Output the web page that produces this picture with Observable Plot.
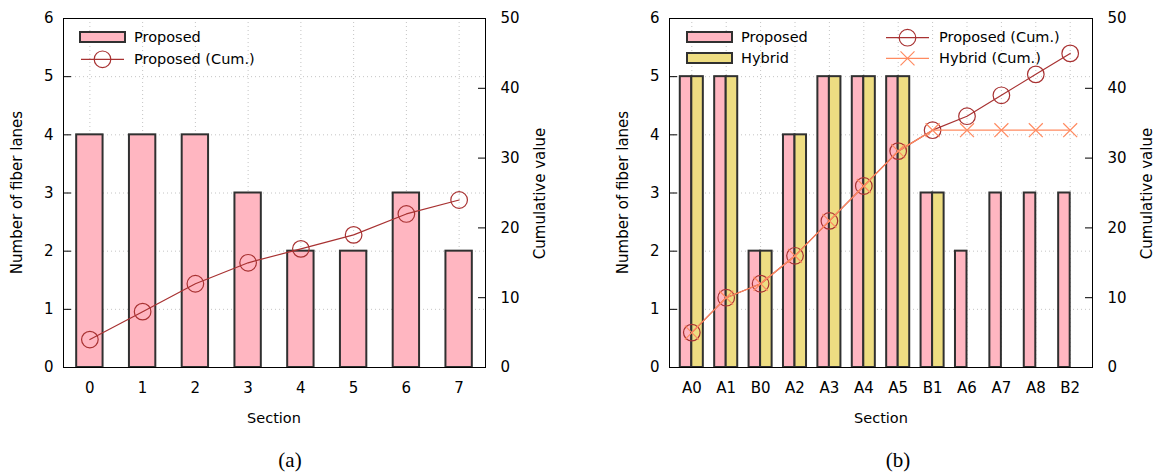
<!DOCTYPE html>
<html>
<head>
<meta charset="utf-8">
<script src="https://cdn.jsdelivr.net/npm/d3@7"></script>
<script src="https://cdn.jsdelivr.net/npm/@observablehq/plot@0.6"></script>
<style>
  html, body { margin: 0; padding: 0; background: #fff; }
  #fig { position: relative; width: 1159px; height: 472px; font-family: "DejaVu Sans", sans-serif; }
  #fig svg.panel { position: absolute; top: 0; }
  #notes { position: absolute; left: 0; top: 0; pointer-events: none; }
  .cap { position: absolute; font-family: "Liberation Serif", serif; font-size: 21px; color: #000;
         transform: translate(-50%, -50%); white-space: nowrap; }
</style>
</head>
<body>
<div id="fig"></div>
<script>
// ---- data: panel (a) ----
const sectionsA = ["0", "1", "2", "3", "4", "5", "6", "7"];
const lanesA    = [4, 4, 4, 3, 2, 2, 3, 2];
const cumA      = [4, 8, 12, 15, 17, 19, 22, 24];

// ---- data: panel (b) ----
const sectionsB      = ["A0", "A1", "B0", "A2", "A3", "A4", "A5", "B1", "A6", "A7", "A8", "B2"];
const proposedB      = [5, 5, 2, 4, 5, 5, 5, 3, 2, 3, 3, 3];
const hybridB        = [5, 5, 2, 4, 5, 5, 5, 3, 0, 0, 0, 0];
const cumProposedB   = [5, 10, 12, 16, 21, 26, 31, 34, 36, 39, 42, 45];
const cumHybridB     = [5, 10, 12, 16, 21, 26, 31, 34, 34, 34, 34, 34];

// ---- axis ticks ----
const laneTicks = [0, 1, 2, 3, 4, 5, 6];
const cumTicks  = [0, 10, 20, 30, 40, 50];
const laneMax = 6, cumMax = 50;
const k = laneMax / cumMax;   // right axis -> left axis units

// ---- styles ----
const PINK = "#ffb6c1", GOLD = "#eedd82", EDGE = "#303030";
const RED = "#a83232", SALMON = "#ff8a60";
const GRID = { stroke: "#c4c4c4", strokeOpacity: 1, strokeDasharray: "1,3", strokeWidth: 1 };
const STYLE = { fontFamily: "DejaVu Sans, sans-serif", fontSize: "15px", color: "#000",
                background: "transparent", overflow: "visible" };
const H = 440, MT = 18, MB = 73, TICK = 8;

function gridMarks() {
  return [
    Plot.gridY(laneTicks.slice(1, -1), GRID),
    Plot.gridX(GRID),
  ];
}
// ticks point into the frame: each axis is shifted inward by the tick length
function axisMarks() {
  return [
    Plot.axisY(laneTicks, { anchor: "left", tickFormat: d => d.toFixed(0),
      tickSize: TICK, dx: TICK, tickPadding: 10, label: null, strokeOpacity: 1 }),
    Plot.axisY(cumTicks.map(v => v * k), { anchor: "right", tickFormat: v => Math.round(v / k).toString(),
      tickSize: TICK, dx: -TICK, tickPadding: 15, label: null, strokeOpacity: 1 }),
    Plot.axisX({ tickSize: 0, tickPadding: 15, label: null }),
    Plot.frame({ stroke: "#000", strokeWidth: 1 })
  ];
}

// ---- panel (a) ----
const rowsA = sectionsA.map((s, i) => ({ section: s, lanes: lanesA[i], cum: cumA[i] }));
const plotA = Plot.plot({
  width: 580, height: H, marginLeft: 63, marginRight: 95, marginTop: MT, marginBottom: MB,
  style: STYLE,
  x: { type: "band", domain: sectionsA, paddingInner: 0.5, paddingOuter: 0.25, round: false },
  y: { domain: [0, laneMax] },
  marks: [
    ...gridMarks(),
    Plot.barY(rowsA, { x: "section", y: "lanes", fill: PINK, stroke: EDGE, strokeWidth: 2 }),
    Plot.line(rowsA, { x: "section", y: d => d.cum * k, stroke: RED, strokeWidth: 1.2 }),
    Plot.dot(rowsA, { x: "section", y: d => d.cum * k, r: 8.3, stroke: RED, strokeWidth: 1.2, fill: "none" }),
    ...axisMarks()
  ]
});

// ---- panel (b) ----
const rowsB = sectionsB.map((s, i) => ({
  section: s, proposed: proposedB[i], hybrid: hybridB[i],
  cumP: cumProposedB[i], cumH: cumHybridB[i]
}));
const wB = 579, mlB = 89, mrB = 67, pin = 0.33, pout = 0.3135;
const stepB = (wB - mlB - mrB) / (sectionsB.length - pin + 2 * pout);
const halfB = stepB * (1 - pin) / 2;
const plotB = Plot.plot({
  width: wB, height: H, marginLeft: mlB, marginRight: mrB, marginTop: MT, marginBottom: MB,
  style: STYLE,
  x: { type: "band", domain: sectionsB, paddingInner: pin, paddingOuter: pout, round: false },
  y: { domain: [0, laneMax] },
  marks: [
    ...gridMarks(),
    Plot.barY(rowsB, { x: "section", y: "proposed", insetRight: halfB, fill: PINK, stroke: EDGE, strokeWidth: 2 }),
    Plot.barY(rowsB.filter(d => d.hybrid > 0), { x: "section", y: "hybrid", insetLeft: halfB, fill: GOLD, stroke: EDGE, strokeWidth: 2 }),
    Plot.line(rowsB, { x: "section", y: d => d.cumP * k, stroke: RED, strokeWidth: 1.2 }),
    Plot.dot(rowsB, { x: "section", y: d => d.cumP * k, r: 8.3, stroke: RED, strokeWidth: 1.2, fill: "none" }),
    Plot.line(rowsB, { x: "section", y: d => d.cumH * k, stroke: SALMON, strokeWidth: 1.2 }),
    Plot.dot(rowsB, { x: "section", y: d => d.cumH * k, symbol: "times", r: 6.4, stroke: SALMON, strokeWidth: 1.2 }),
    ...axisMarks()
  ]
});

const fig = document.getElementById("fig");
plotA.classList.add("panel"); plotA.style.left = "0px";
plotB.classList.add("panel"); plotB.style.left = "580px";
fig.appendChild(plotA);
fig.appendChild(plotB);

// ---- titles and legends ----
const notes = d3.select(fig).append("svg").attr("id", "notes")
  .attr("width", 1159).attr("height", 472)
  .style("font-family", "DejaVu Sans, sans-serif").style("font-size", "14.5px");

function label(x, y, txt, opts = {}) {
  const t = notes.append("text").attr("x", x).attr("y", y).text(txt)
    .attr("dominant-baseline", "central").attr("fill", "#000")
    .attr("text-anchor", opts.anchor || "start");
  if (opts.rotate) t.attr("transform", `rotate(-90 ${x} ${y})`).attr("text-anchor", "middle");
  if (opts.size) t.style("font-size", opts.size);
  return t;
}
function swatch(x, y, fill) {
  notes.append("rect").attr("x", x).attr("y", y).attr("width", 45).attr("height", 10)
    .attr("fill", fill).attr("stroke", EDGE).attr("stroke-width", 2);
}
function lineKey(x, y, color, marker) {
  notes.append("line").attr("x1", x).attr("x2", x + 43).attr("y1", y).attr("y2", y)
    .attr("stroke", color).attr("stroke-width", 1.2);
  const cx = x + 21.5;
  if (marker === "circle") {
    notes.append("circle").attr("cx", cx).attr("cy", y).attr("r", 8.3)
      .attr("fill", "none").attr("stroke", color).attr("stroke-width", 1.2);
  } else {
    notes.append("path").attr("d", `M${cx - 7},${y - 7}L${cx + 7},${y + 7}M${cx - 7},${y + 7}L${cx + 7},${y - 7}`)
      .attr("stroke", color).attr("stroke-width", 1.2);
  }
}

// axis titles
label(17, 192.5, "Number of fiber lanes", { rotate: true, size: "15px" });
label(540, 193.5, "Cumulative value", { rotate: true, size: "15px" });
label(274, 418, "Section", { anchor: "middle" });
label(623, 192.5, "Number of fiber lanes", { rotate: true, size: "15px" });
label(1147, 193.5, "Cumulative value", { rotate: true, size: "15px" });
label(881, 418, "Section", { anchor: "middle" });

// legend (a)
swatch(80, 32, PINK);
label(134, 37, "Proposed");
lineKey(81, 59.3, RED, "circle");
label(134, 59, "Proposed (Cum.)");

// legend (b)
swatch(687, 32, PINK);
label(741, 37, "Proposed");
swatch(687, 53, GOLD);
label(741, 58, "Hybrid");
lineKey(886, 37.7, RED, "circle");
label(939, 37, "Proposed (Cum.)");
lineKey(886, 58.3, SALMON, "times");
label(939, 58, "Hybrid (Cum.)");

// sub-figure captions
for (const [txt, x] of [["(a)", 290], ["(b)", 898]]) {
  const c = document.createElement("div");
  c.className = "cap"; c.textContent = txt;
  c.style.left = x + "px"; c.style.top = "460px";
  fig.appendChild(c);
}
</script>
</body>
</html>
